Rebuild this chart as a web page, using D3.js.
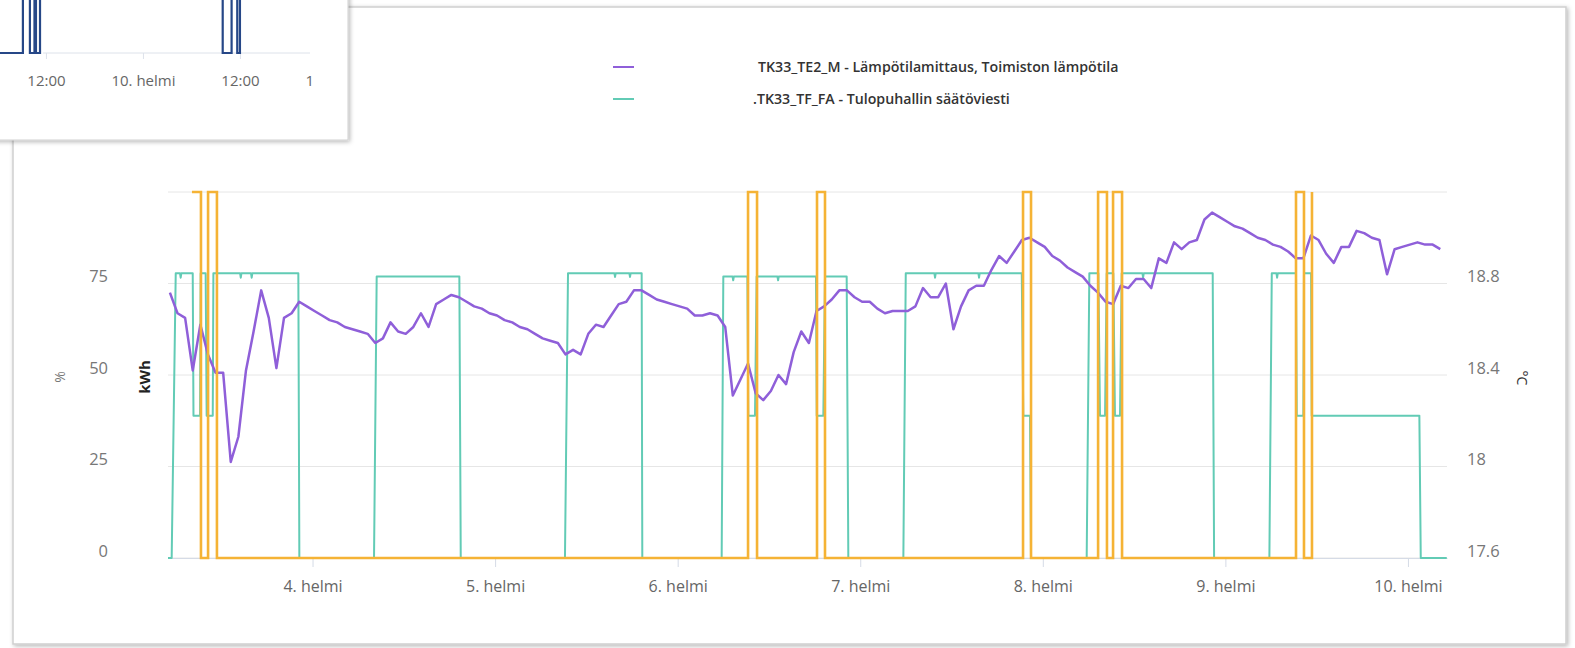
<!DOCTYPE html>
<html><head><meta charset="utf-8">
<script src="https://cdn.jsdelivr.net/npm/d3@7"></script>
<style>
body{margin:0;background:#fff;}
svg{display:block;font-family:"Open Sans",sans-serif;}
</style></head>
<body><svg id="chart" width="1575" height="648"></svg>
<script>
// ---------- DATA ----------
const dayTickLabels = ["4. helmi","5. helmi","6. helmi","7. helmi","8. helmi","9. helmi","10. helmi"];
const dayTickDates = ["02-04 00:00","02-05 00:00","02-06 00:00","02-07 00:00","02-08 00:00","02-09 00:00","02-10 00:00"];
const leftTicks = [0,25,50,75];
const leftGrid = [0,25,50,75,100];
const rightTicks = [17.6,18,18.4,18.8];
const legendLabels = ["TK33_TE2_M - Lämpötilamittaus, Toimiston lämpötila", ".TK33_TF_FA - Tulopuhallin säätöviesti"];

// Temperature (°C), hourly readings starting at tempStart
const tempStart = "02-03 05:15";
const tempValues = [
18.76,18.67,18.65,18.42,18.62,18.49,18.41,18.41,18.02,18.13,
18.42,18.59,18.77,18.65,18.43,18.65,18.67,18.72,18.70,18.68,
18.66,18.64,18.63,18.61,18.60,18.59,18.58,18.54,18.56,18.63,
18.59,18.58,18.61,18.67,18.61,18.71,18.73,18.75,18.74,18.72,
18.70,18.69,18.67,18.66,18.64,18.63,18.61,18.60,18.58,18.56,
18.55,18.54,18.49,18.51,18.49,18.58,18.62,18.61,18.66,18.71,
18.72,18.77,18.77,18.75,18.73,18.72,18.71,18.70,18.69,18.66,
18.66,18.67,18.66,18.61,18.31,18.38,18.45,18.32,18.29,18.33,
18.40,18.36,18.50,18.59,18.54,18.68,18.70,18.73,18.77,18.77,
18.74,18.72,18.72,18.69,18.67,18.68,18.68,18.68,18.70,18.78,
18.74,18.74,18.80,18.60,18.70,18.77,18.79,18.79,18.86,18.92,
18.89,18.94,18.99,19.00,18.98,18.96,18.92,18.90,18.87,18.85,
18.83,18.79,18.76,18.72,18.71,18.79,18.78,18.82,18.82,18.78,
18.91,18.89,18.98,18.95,18.98,18.99,19.08,19.11,19.09,19.07,
19.05,19.04,19.02,19.00,18.99,18.97,18.96,18.94,18.91,18.91,
19.01,18.99,18.93,18.89,18.96,18.96,19.03,19.02,19.00,18.99,
18.84,18.95,18.96,18.97,18.98,18.97,18.97,18.95];

// Supply fan control signal (%)
const fanSeries = [
["02-03 05:00",0],["02-03 05:29",0],["02-03 06:01",77.8],["02-03 06:35",77.8],["02-03 06:40",76.6],["02-03 06:45",77.8],
["02-03 08:15",77.8],["02-03 08:21",38.9],["02-03 09:13",38.9],["02-03 09:18",77.8],["02-03 09:57",77.8],["02-03 10:05",38.9],
["02-03 10:53",38.9],["02-03 10:58",77.8],["02-03 14:29",77.8],["02-03 14:34",76.6],["02-03 14:39",77.8],["02-03 15:55",77.8],
["02-03 16:00",76.6],["02-03 16:05",77.8],["02-03 22:08",77.8],["02-03 22:16",0],
["02-04 08:05",0],["02-04 08:26",76.9],["02-04 19:18",76.9],["02-04 19:29",0],
["02-05 09:11",0],["02-05 09:35",77.8],["02-05 15:41",77.8],["02-05 15:46",76.8],["02-05 15:51",77.8],["02-05 17:39",77.8],
["02-05 17:44",76.8],["02-05 17:49",77.8],["02-05 19:16",77.8],["02-05 19:21",0],
["02-06 05:47",0],["02-06 06:00",76.9],["02-06 07:13",76.9],["02-06 07:18",75.9],["02-06 07:23",76.9],["02-06 09:10",76.9],
["02-06 09:17",38.9],["02-06 10:10",38.9],["02-06 10:23",76.9],["02-06 13:07",76.9],["02-06 13:12",75.9],["02-06 13:17",76.9],
["02-06 18:11",76.9],["02-06 18:17",38.9],["02-06 19:09",38.9],["02-06 19:22",76.9],["02-06 22:13",76.9],["02-06 22:26",0],
["02-07 05:40",0],["02-07 05:59",77.8],["02-07 09:45",77.8],["02-07 09:50",76.6],["02-07 09:55",77.8],["02-07 15:32",77.8],
["02-07 15:37",76.6],["02-07 15:42",77.8],["02-07 21:14",77.8],["02-07 21:26",38.9],["02-07 22:19",38.9],["02-07 22:27",0],
["02-08 05:46",0],["02-08 06:07",77.8],["02-08 07:18",77.8],["02-08 07:31",38.9],["02-08 08:11",38.9],["02-08 08:24",77.8],
["02-08 09:16",77.8],["02-08 09:29",38.9],["02-08 10:09",38.9],["02-08 10:22",77.8],["02-08 13:06",77.8],["02-08 13:11",76.6],
["02-08 13:16",77.8],["02-08 22:20",77.8],["02-08 22:31",0],
["02-09 05:47",0],["02-09 06:06",77.8],["02-09 06:43",77.8],["02-09 06:48",76.6],["02-09 06:53",77.8],["02-09 09:17",77.8],
["02-09 09:23",38.9],["02-09 10:15",38.9],["02-09 10:20",77.8],["02-09 11:16",77.8],["02-09 11:21",38.9],
["02-10 01:30",38.9],["02-10 01:41",0],["02-10 05:06",0]];

// On/off signal (step, left axis)
const pulseSeries = [
["02-03 08:09",100],["02-03 09:20",0],["02-03 10:16",100],["02-03 11:26",0],
["02-06 09:15",100],["02-06 10:26",0],["02-06 18:19",100],["02-06 19:22",0],
["02-07 21:24",100],["02-07 22:27",0],["02-08 07:16",100],["02-08 08:26",0],
["02-08 09:14",100],["02-08 10:25",0],["02-09 09:17",100],["02-09 10:20",0],["02-09 11:23",100]];

// Inset (navigator-like popup) step series
const insetSeries = [
["02-09 06:19",0],["02-09 09:09",1],["02-09 10:01",0],["02-09 10:35",1],["02-09 10:46",0],["02-09 11:16",1],
["02-10 09:52",0],["02-10 10:58",1],["02-10 11:40",0],["02-10 12:00",1],["02-11 01:22",1]];
const insetTickDates = ["02-09 12:00","02-10 00:00","02-10 12:00","02-11 00:00"];
const insetTickLabels = ["12:00","10. helmi","12:00","11. helmi"];

const colors = {temp:"#8f5fd9", fan:"#62cbb5", pulse:"#f5b335", inset:"#264787"};

// ---------- RENDER ----------
const parse = s => d3.timeParse("%Y-%m-%d %H:%M")("2021-" + s);
const svg = d3.select("#chart");
const defs = svg.append("defs");
const sh = defs.append("filter").attr("id","shadow").attr("x","-5%").attr("y","-5%").attr("width","110%").attr("height","110%");
sh.append("feDropShadow").attr("dx",1.5).attr("dy",1.5).attr("stdDeviation",2).attr("flood-color","#000").attr("flood-opacity",0.28);

// card
svg.append("rect").attr("x",13).attr("y",7).attr("width",1553).attr("height",637)
  .attr("fill","#fff").attr("stroke","#cfcfcf").attr("stroke-width",1.5).attr("filter","url(#shadow)");

const x = d3.scaleTime().domain([parse("02-03 05:00"), parse("02-10 05:08")]).range([168,1447]);
const yL = d3.scaleLinear().domain([0,100]).range([558,192]);
const yR = d3.scaleLinear().domain([17.6,19.2]).range([558,192]);

// grid
svg.append("g").selectAll("line").data(leftGrid).join("line")
  .attr("x1",168).attr("x2",1447).attr("y1",d=>yL(d)).attr("y2",d=>yL(d))
  .attr("stroke","#e6e6e6").attr("stroke-width",1);

// x axis
const xAxis = d3.axisBottom(x).tickValues(dayTickDates.map(parse))
  .tickFormat((d,i)=>dayTickLabels[i]).tickSizeInner(9).tickSizeOuter(0).tickPadding(14);
const gx = svg.append("g").attr("transform","translate(0,558)").call(xAxis);
gx.select(".domain").attr("stroke","#d5dbe6");
gx.selectAll(".tick line").attr("stroke","#d5dbe6");
gx.selectAll("text").attr("fill","#666").attr("font-size",16).attr("font-family","Open Sans");

// left axis
const gl = svg.append("g").attr("transform","translate(108,0)")
  .call(d3.axisLeft(yL).tickValues(leftTicks).tickSize(0).tickPadding(0));
gl.select(".domain").remove();
gl.selectAll("text").attr("fill","#777").attr("font-size",16.5).attr("y",-7).attr("font-family","Open Sans");

// right axis
const gr = svg.append("g").attr("transform","translate(1467,0)")
  .call(d3.axisRight(yR).tickValues(rightTicks).tickFormat(d3.format("")).tickSize(0).tickPadding(0));
gr.select(".domain").remove();
gr.selectAll("text").attr("fill","#777").attr("font-size",16.5).attr("y",-7).attr("font-family","Open Sans");

// axis titles
svg.append("text").attr("transform","translate(60,377) rotate(-90)").attr("text-anchor","middle")
  .attr("dy","0.35em").attr("fill","#777").attr("font-size",14).text("%");
svg.append("text").attr("transform","translate(145,377) rotate(-90)").attr("text-anchor","middle")
  .attr("dy","0.35em").attr("fill","#222").attr("font-size",15).attr("font-weight",700).text("kWh");
svg.append("text").attr("transform","translate(1522,378) rotate(90)").attr("text-anchor","middle")
  .attr("dy","0.35em").attr("fill","#333").attr("font-size",14).text("°C");

// series
const fanLine = d3.line().x(d=>x(parse(d[0]))).y(d=>yL(d[1]));
svg.append("path").attr("d",fanLine(fanSeries)).attr("fill","none")
  .attr("stroke",colors.fan).attr("stroke-width",2).attr("stroke-linejoin","round");

const tempData = tempValues.map((v,i)=>[d3.timeHour.offset(parse(tempStart),i),v]);
const tempLine = d3.line().x(d=>x(d[0])).y(d=>yR(d[1]));
svg.append("path").attr("d",tempLine(tempData)).attr("fill","none")
  .attr("stroke",colors.temp).attr("stroke-width",2.5).attr("stroke-linejoin","round");

const pulseLine = d3.line().curve(d3.curveStepAfter).x(d=>x(parse(d[0]))).y(d=>yL(d[1]));
svg.append("path").attr("d",pulseLine(pulseSeries)).attr("fill","none")
  .attr("stroke",colors.pulse).attr("stroke-width",2.6);

// legend
const legend = svg.append("g");
legendLabels.forEach((lab,i)=>{
  const yy = 67 + i*32;
  legend.append("line").attr("x1",613).attr("x2",634).attr("y1",yy).attr("y2",yy)
    .attr("stroke", i===0?colors.temp:colors.fan).attr("stroke-width",2);
  legend.append("text").attr("x", i===0?758:753).attr("y",yy).attr("dy","0.35em")
    .attr("fill","#333").attr("font-size",14.2).attr("font-weight",600)
    .attr("font-family","Open Sans").text(lab);
});

// inset popup
const inset = svg.append("g");
inset.append("rect").attr("x",-10).attr("y",-10).attr("width",358).attr("height",150)
  .attr("fill","#fff").attr("stroke","#d0d0d0").attr("stroke-width",1).attr("filter","url(#shadow)");
const clip = defs.append("clipPath").attr("id","insetClip");
clip.append("rect").attr("x",0).attr("y",0).attr("width",312).attr("height",140);
const xi = d3.scaleTime().domain([parse("02-09 06:19"), parse("02-11 01:22")]).range([0,348]);
const yi = d3.scaleLinear().domain([0,1]).range([53,-20]);
const ig = inset.append("g").attr("clip-path","url(#insetClip)");
const xiAxis = d3.axisBottom(xi).tickValues(insetTickDates.map(parse))
  .tickFormat((d,i)=>insetTickLabels[i]).tickSizeInner(6).tickSizeOuter(0).tickPadding(16);
const gi = ig.append("g").attr("transform","translate(0,53)").call(xiAxis);
gi.select(".domain").attr("stroke","#dde2ea").attr("d","M43,0H310");
gi.selectAll(".tick line").attr("stroke","#dde2ea");
gi.selectAll("text").attr("fill","#666").attr("font-size",15).attr("font-family","Open Sans");
const insetLine = d3.line().curve(d3.curveStepAfter).x(d=>xi(parse(d[0]))).y(d=>yi(d[1]));
ig.append("path").attr("d",insetLine(insetSeries)).attr("fill","none")
  .attr("stroke",colors.inset).attr("stroke-width",2.2);
</script></body></html>
